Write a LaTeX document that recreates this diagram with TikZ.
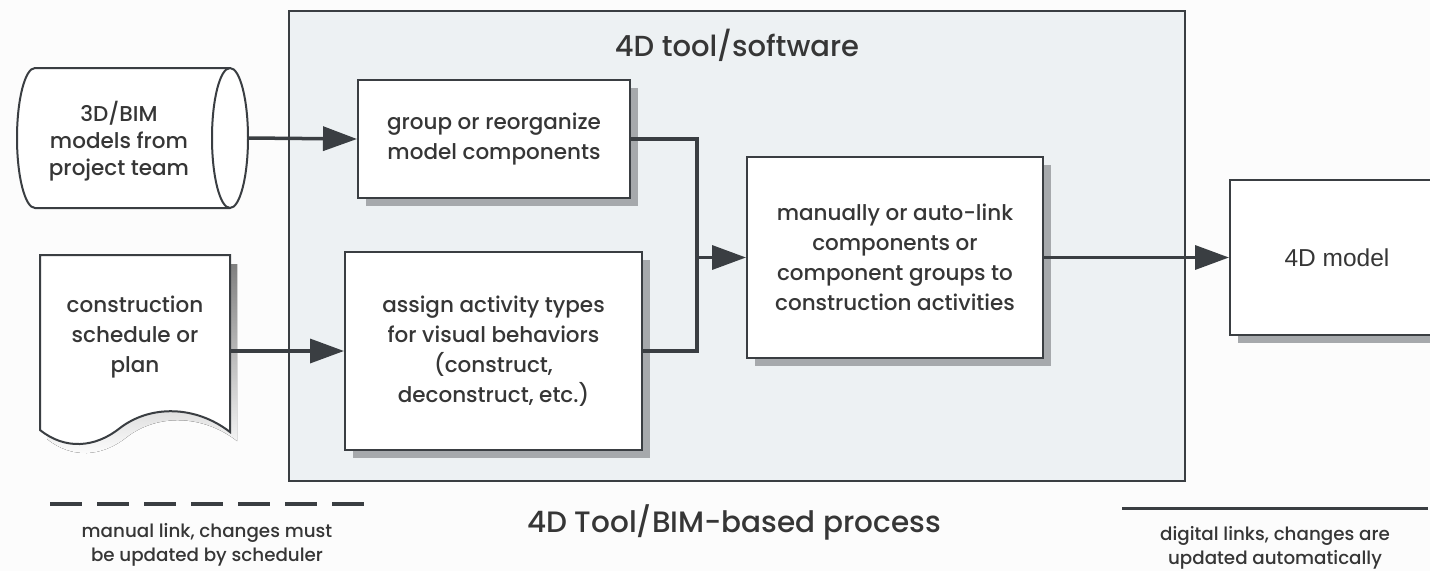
\documentclass[tikz,border=0pt]{standalone}
\usepackage{fontspec}
\setmainfont{Poppins}[UprightFont={* Medium}]
\newfontfamily\helv{Liberation Sans}
\usetikzlibrary{arrows.meta,shadows}

\definecolor{ink}{HTML}{3A3E42}
\definecolor{txt}{HTML}{363636}
\definecolor{panel}{HTML}{EDF1F3}
\definecolor{shade}{HTML}{A6A9AC}
\definecolor{paper}{HTML}{FCFCFC}

\tikzset{
  procbox/.style={draw=ink, line width=2pt, fill=white, align=center, text=txt,
    font=\fontsize{21.5}{30}\selectfont, inner sep=0pt,
    drop shadow={shadow xshift=8pt, shadow yshift=-8pt, fill=shade, opacity=1}},
  ghost/.style={inner sep=0pt, outer sep=0pt},
  label/.style={align=center, text=txt, font=\fontsize{21.5}{30}\selectfont, inner sep=0pt},
  link/.style={draw=ink, line width=3.5pt},
  flow/.style={link, -{Triangle[length=34pt,width=24pt]}},
  legendtext/.style={align=center, text=txt, font=\fontsize{18.3}{24}\selectfont, inner sep=0pt}
}

\begin{document}
\begin{tikzpicture}[x=1pt,y=-1pt]
  \fill[paper] (0,0) rectangle (1430,571);
  \useasboundingbox (0,0) rectangle (1430,571);

  % software panel
  \node[draw=ink, line width=1.6pt, fill=panel, minimum width=896pt, minimum height=470pt,
        anchor=north west, inner sep=0pt] (panel) at (288,10) {};
  \node[text=txt, font=\fontsize{29}{32}\selectfont, inner sep=0pt] (title) at (737,45) {4D tool/software};

  % BIM model source (horizontal cylinder)
  \node[ghost, minimum width=231pt, minimum height=140pt] (bim) at (132.5,138) {};
  \filldraw[fill=white, draw=ink, line width=2pt]
    (35,68) -- (230,68) arc[start angle=90, end angle=-90, x radius=18pt, y radius=70pt]
    -- (35,208) arc[start angle=270, end angle=90, x radius=18pt, y radius=70pt] -- cycle;
  \draw[ink, line width=2pt] (230,68) arc[start angle=90, end angle=270, x radius=18pt, y radius=70pt];
  \node[label, font=\fontsize{21.5}{27}\selectfont] (bimlabel) at (119,141) {3D/BIM\\models from\\project team};

  % schedule document
  \node[ghost, minimum width=190pt, minimum height=192pt] (sched) at (135,351) {};
  \fill[shade, shift={(7,9)}]
    (40,255) -- (230,255) -- (230,432)
    .. controls (195,405) and (150,405) .. (120,428)
    .. controls (95,448) and (65,450) .. (40,430) -- cycle;
  \filldraw[fill=white, draw=ink, line width=2pt]
    (40,255) -- (230,255) -- (230,432)
    .. controls (195,405) and (150,405) .. (120,428)
    .. controls (95,448) and (65,450) .. (40,430) -- cycle;
  \node[label] (schedlabel) at (135,337) {construction\\schedule or\\plan};

  % processing steps
  \node[procbox, minimum width=272pt, minimum height=118pt] (grp) at (494,139)
    {group or reorganize\\model components};
  \node[procbox, minimum width=297pt, minimum height=198pt] (asg) at (493.5,351)
    {assign activity types\\for visual behaviors\\(construct,\\deconstruct, etc.)};
  \node[procbox, minimum width=296pt, minimum height=201pt] (man) at (895,257.5)
    {manually or auto-link\\components or\\component groups to\\construction activities};
  \node[procbox, font=\helv\fontsize{24.5}{28}\selectfont, minimum width=214pt, minimum height=155pt] (model) at (1337,257.5)
    {4D model};

  % connectors
  \draw[flow] (bim.east) -- (grp.west);
  \draw[flow] (sched.east) -- (asg.west);
  \coordinate (jt) at (697,139);
  \coordinate (jb) at (697,351);
  \draw[link, line join=miter] (grp.east) -- (jt) -- (jb) -- (asg.east);
  \draw[flow] (jt |- man.west) -- (man.west);
  \draw[flow] (man.east) -- (model.west);

  % legend
  \coordinate (dashL) at (50,504);
  \coordinate (dashR) at (365,504);
  \draw[link, dash pattern=on 32pt off 15pt] (dashL) -- (dashR);
  \node[legendtext] (manualnote) at (207,545) {manual link, changes must\\be updated by scheduler};

  \node[text=txt, font=\fontsize{29.5}{32}\selectfont, inner sep=0pt] (caption) at (734,522) {4D Tool/BIM-based process};

  \coordinate (solidL) at (1122,508);
  \coordinate (solidR) at (1428,508);
  \draw[link, line width=3pt] (solidL) -- (solidR);
  \node[legendtext] (digitalnote) at (1275,548) {digital links, changes are\\updated automatically};
\end{tikzpicture}
\end{document}
